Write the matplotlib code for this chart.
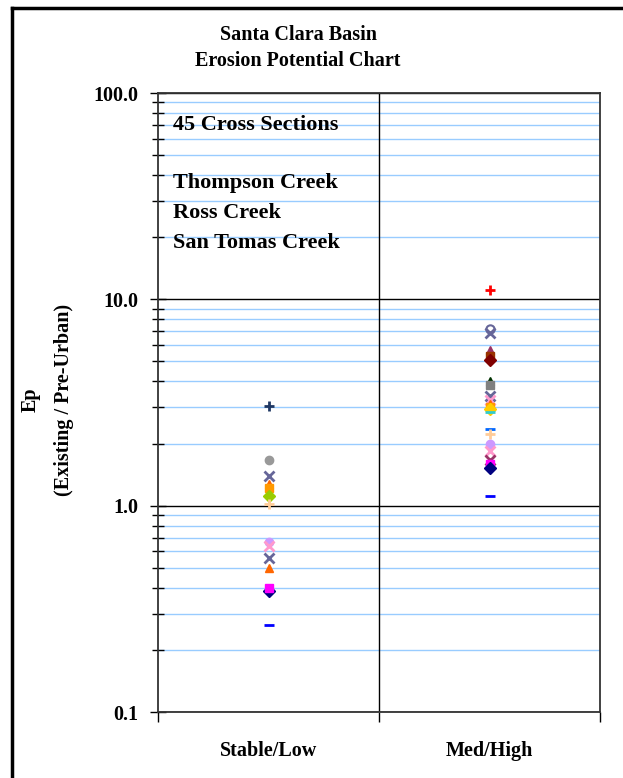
"""Santa Clara Basin erosion potential chart (log-scale Ep by category)."""
import matplotlib
matplotlib.use("Agg")
import matplotlib.pyplot as plt
from matplotlib.lines import Line2D
from matplotlib.ticker import FixedLocator, LogLocator, NullFormatter

plt.rcParams['font.family'] = ['Liberation Serif', 'DejaVu Serif']
plt.rcParams['font.weight'] = 'bold'

categories = ['Stable/Low', 'Med/High']
y_ticks = [0.1, 1.0, 10.0, 100.0]
notes = ['45 Cross Sections', 'Thompson Creek', 'Ross Creek', 'San Tomas Creek']

# one entry per cross section (Excel series)
stable_vals = [3.05, 1.66, 1.40, 1.28, 1.22, 1.11, 1.02, 0.67, 0.64, 0.56, 0.50, 0.385, 0.40, 0.265]
stable_mark = ['+', 'o', 'x', '^', 's', 'D', '+', 'o', 'x', 'x', '^', 'D', 's', '_']
stable_col = ['#1f3864', '#999999', '#666699', '#ff6600', '#ff9900', '#99cc00', '#ffcc99',
              '#cc99ff', '#ff99cc', '#666699', '#ff6600', '#000080', '#ff00ff', '#0000ff']

med_vals = [11.1, 7.2, 6.85, 5.7, 5.3, 5.1, 4.0, 3.85, 3.4, 3.25, 3.1, 3.0, 2.95, 2.85,
            2.35, 2.22, 2.0, 1.85, 1.66, 1.60, 1.52, 1.12]
med_mark = ['+', 'o', 'x', '^', 's', 'D', '^', 's', 'x', 'x', '^', 's', 'D', '_',
            '_', '+', 'o', 'x', 'x', 's', 'D', '_']
med_col = ['#ff0000', '#666699', '#666699', '#993366', '#993300', '#800000', '#003300', '#808080',
           '#666699', '#ff99cc', '#ff6600', '#ff9900', '#ffcc00', '#33cccc',
           '#0066ff', '#ffcc99', '#cc99ff', '#ff99cc', '#993366', '#ff00ff', '#000080', '#0000ff']

W, H = 623, 778
fig = plt.figure(figsize=(W / 100, H / 100), dpi=100)
ax = fig.add_axes([158 / W, 1 - 712 / H, 442 / W, 619 / H])

ax.set_yscale('log')
ax.set_ylim(0.1, 100)
ax.set_xlim(-0.5, 1.5)

for i, vals, marks, cols in [(0, stable_vals, stable_mark, stable_col),
                             (1, med_vals, med_mark, med_col)]:
    for v, m, c in zip(vals, marks, cols):
        if m == 'o' and c == '#666699':
            ax.plot(i, v, m, ms=6, mfc='white', mec=c, mew=1.5, zorder=3)
        elif m in ('+', 'x', '_'):
            ax.plot(i, v, m, ms=7, color=c, mew=2, zorder=3)
        else:
            ax.plot(i, v, m, ms=6, color=c, zorder=3)

# gridlines: blue at minor decades, black at majors
ax.yaxis.set_major_locator(FixedLocator(y_ticks))
ax.yaxis.set_minor_locator(LogLocator(base=10, subs=range(2, 10)))
ax.yaxis.set_minor_formatter(NullFormatter())
ax.set_yticklabels([f'{t:.1f}' for t in y_ticks], fontsize=14.5, fontweight='bold')
ax.grid(True, which='minor', axis='y', color='#99ccff', lw=1)
ax.grid(True, which='major', axis='y', color='black', lw=1)
ax.set_axisbelow(True)
ax.tick_params(axis='y', which='major', direction='inout', length=12, width=1, pad=8)
ax.tick_params(axis='y', which='minor', direction='inout', length=8, width=1)

ax.axvline(0.5, color='black', lw=1)
ax.set_xticks([0, 1])
ax.set_xticklabels(categories, fontsize=14.5, fontweight='bold')
ax.xaxis.set_minor_locator(FixedLocator([-0.5, 0.5, 1.5]))
ax.tick_params(axis='x', which='major', length=0, pad=21)
ax.tick_params(axis='x', which='minor', direction='out', length=7, width=1)

for s in ax.spines.values():
    s.set_color('#333333')
    s.set_linewidth(1.3)

# text block in the upper-left panel
note_y = [125, 183, 213, 243]
for txt, yp in zip(notes, note_y):
    fig.text(173 / W, 1 - yp / H, txt, fontsize=16, fontweight='bold', va='center', ha='left')

fig.text(298 / W, 1 - 35 / H, 'Santa Clara Basin', fontsize=14.5, fontweight='bold', ha='center', va='center')
fig.text(298 / W, 1 - 61 / H, 'Erosion Potential Chart', fontsize=14.5, fontweight='bold', ha='center', va='center')
fig.text(31 / W, 1 - 400 / H, 'Ep', fontsize=14.5, fontweight='bold', rotation=90, ha='center', va='center')
fig.text(64 / W, 1 - 400 / H, '(Existing / Pre-Urban)', fontsize=14.5, fontweight='bold',
         rotation=90, ha='center', va='center')

# outer frame (left and top edges only are visible in the crop)
fig.add_artist(Line2D([12 / W, 12 / W], [0, 1 - 8 / H], color='black', lw=2.5))
fig.add_artist(Line2D([12 / W, 1], [1 - 8 / H, 1 - 8 / H], color='black', lw=2.5))

fig.savefig('out.png', dpi=100)
